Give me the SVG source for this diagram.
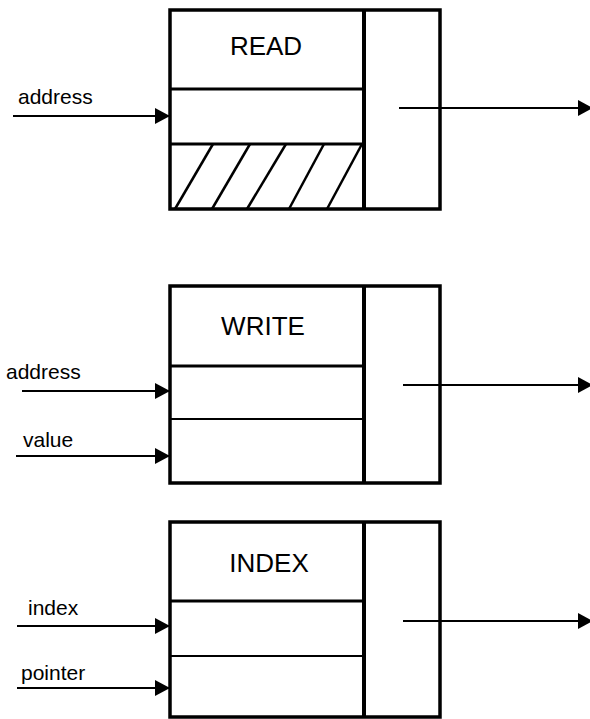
<svg xmlns="http://www.w3.org/2000/svg" width="590" height="719" viewBox="0 0 590 719">
<style>
.box{fill:#fff;stroke:#000;stroke-width:3.5}
.div{stroke:#000;stroke-width:4}
.hl{stroke:#000;stroke-width:3}
.hl2{stroke:#000;stroke-width:2}
.hatch{stroke:#000;stroke-width:2.5}
.title{font-family:"Liberation Sans",Arial,sans-serif;font-size:26px;text-anchor:middle;fill:#000}
.lbl{font-family:"Liberation Sans",Arial,sans-serif;font-size:21px;fill:#000}
.arr{stroke:#000;stroke-width:2;fill:none;marker-end:url(#ah)}
</style>
<defs>
<marker id="ah" markerUnits="userSpaceOnUse" markerWidth="16" markerHeight="17" refX="15" refY="8" orient="auto">
<path d="M0,0 L15,8 L0,16 z" fill="#000"/>
</marker>
</defs>
<g id="read">
<rect class="box" x="170" y="10" width="270" height="199"/>
<line class="div" x1="364" y1="10" x2="364" y2="209"/>
<line class="hl" x1="170" y1="89" x2="364" y2="89"/>
<line class="hl" x1="170" y1="144" x2="364" y2="144"/>
<line class="hatch" x1="175" y1="209" x2="213" y2="144"/>
<line class="hatch" x1="212" y1="209" x2="250" y2="144"/>
<line class="hatch" x1="247" y1="209" x2="286" y2="144"/>
<line class="hatch" x1="289" y1="209" x2="324" y2="144"/>
<line class="hatch" x1="327" y1="209" x2="362" y2="144"/>
<text class="title" x="266" y="55">READ</text>
</g>
<g id="write">
<rect class="box" x="170" y="286" width="270" height="197"/>
<line class="div" x1="364" y1="286" x2="364" y2="483"/>
<line class="hl" x1="170" y1="366" x2="364" y2="366"/>
<line class="hl2" x1="170" y1="419" x2="364" y2="419"/>
<text class="title" x="263" y="335">WRITE</text>
</g>
<g id="index">
<rect class="box" x="170" y="522" width="270" height="195"/>
<line class="div" x1="364" y1="522" x2="364" y2="717"/>
<line class="hl" x1="170" y1="601" x2="364" y2="601"/>
<line class="hl2" x1="170" y1="656" x2="364" y2="656"/>
<text class="title" x="269" y="572">INDEX</text>
</g>
<g id="labels">
<text class="lbl" x="18" y="104">address</text>
<text class="lbl" x="6" y="379">address</text>
<text class="lbl" x="23" y="447">value</text>
<text class="lbl" x="28" y="615">index</text>
<text class="lbl" x="21" y="680">pointer</text>
</g>
<g id="connectors">
<line class="arr" x1="13" y1="116" x2="170" y2="116"/>
<line class="arr" x1="399" y1="108" x2="593" y2="108"/>
<line class="arr" x1="22" y1="391" x2="170" y2="391"/>
<line class="arr" x1="16" y1="456" x2="170" y2="456"/>
<line class="arr" x1="403" y1="385" x2="593" y2="385"/>
<line class="arr" x1="17" y1="626" x2="170" y2="626"/>
<line class="arr" x1="17" y1="688" x2="170" y2="688"/>
<line class="arr" x1="403" y1="621" x2="593" y2="621"/>
</g>
</svg>
